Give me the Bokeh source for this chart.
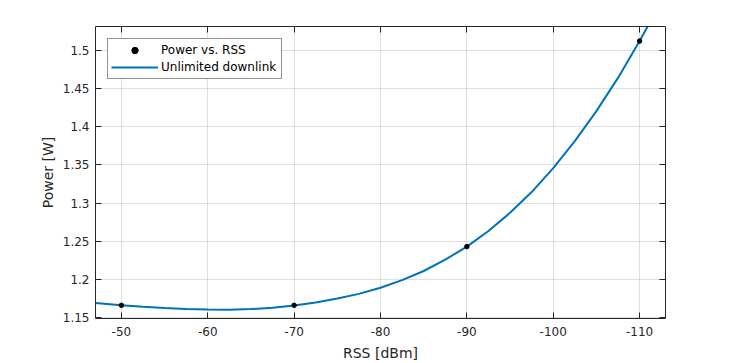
from bokeh.plotting import figure
from bokeh.models import Range1d, LinearAxis, FixedTicker, Legend, LegendItem
from bokeh.embed import file_html
from bokeh.resources import INLINE

# ---- data ----
rss_points = [-50, -70, -90, -110]
power_points = [1.166, 1.166, 1.243, 1.5125]

curve_rss = [-47, -50, -52.5, -55, -57.5, -60, -62.5, -65, -67.5, -70, -72.5, -75,
             -77.5, -80, -82.5, -85, -87.5, -90, -92.5, -95, -97.5, -100, -102.5,
             -105, -107.5, -110, -111]
curve_power = [1.1690, 1.1660, 1.1640, 1.1624, 1.1612, 1.1605, 1.1603, 1.1610, 1.1628,
               1.1658, 1.1698, 1.1750, 1.1810, 1.1890, 1.1990, 1.2110, 1.2258, 1.2430,
               1.2635, 1.2873, 1.3145, 1.3458, 1.3813, 1.4206, 1.4642, 1.5125, 1.5331]

x_ticks = [-50, -60, -70, -80, -90, -100, -110]
x_tick_labels = ["-50", "-60", "-70", "-80", "-90", "-100", "-110"]
y_ticks = [1.15, 1.2, 1.25, 1.3, 1.35, 1.4, 1.45, 1.5]
y_tick_labels = ["1.15", "1.2", "1.25", "1.3", "1.35", "1.4", "1.45", "1.5"]

series_labels = ["Power vs. RSS", "Unlimited downlink"]
x_label = "RSS [dBm]"
y_label = "Power [W]"

# ---- style ----
FONT = "DejaVu Sans"
AX = "#262626"
BLUE = "#0072BD"

p = figure(width=734, height=363,
           x_range=Range1d(-47, -113), y_range=Range1d(1.1487, 1.5316),
           output_backend="svg", toolbar_location=None,
           min_border_left=95, min_border_right=69,
           min_border_top=26, min_border_bottom=42)
p.outline_line_color = None
p.background_fill_color = "white"
p.border_fill_color = "white"

bottom_ax = p.below[0]
left_ax = p.left[0]

line_r = p.line(curve_rss, curve_power, line_color=BLUE, line_width=2)
dot_r = p.scatter(rss_points, power_points, size=4.5, color="black")

top_ax = LinearAxis()
right_ax = LinearAxis()
p.add_layout(top_ax, "above")
p.add_layout(right_ax, "right")

for ax in [bottom_ax, top_ax]:
    ax.ticker = FixedTicker(ticks=x_ticks)
for ax in [left_ax, right_ax]:
    ax.ticker = FixedTicker(ticks=y_ticks)

bottom_ax.major_label_overrides = dict(zip(x_ticks, x_tick_labels))
left_ax.major_label_overrides = dict(zip(y_ticks, y_tick_labels))
top_ax.major_label_overrides = {t: "" for t in x_ticks}
right_ax.major_label_overrides = {t: "" for t in y_ticks}

for ax in [bottom_ax, left_ax, top_ax, right_ax]:
    ax.axis_line_color = AX
    ax.axis_line_width = 1
    ax.major_tick_line_color = AX
    ax.major_tick_in = 6
    ax.major_tick_out = 0
    ax.minor_tick_line_color = None
    ax.major_label_text_font = FONT
    ax.major_label_text_font_size = "12px"
    ax.major_label_text_color = AX
    ax.axis_label_text_font = FONT
    ax.axis_label_text_font_size = "14px"
    ax.axis_label_text_font_style = "normal"
    ax.axis_label_text_color = AX

for ax in [top_ax, right_ax]:
    ax.major_label_standoff = 0

bottom_ax.axis_label = x_label
bottom_ax.major_label_standoff = 8
bottom_ax.axis_label_standoff = 6
left_ax.axis_label = y_label
left_ax.major_label_standoff = 6
left_ax.axis_label_standoff = 4

p.xgrid.grid_line_color = AX
p.xgrid.grid_line_alpha = 0.15
p.ygrid.grid_line_color = AX
p.ygrid.grid_line_alpha = 0.15

legend = Legend(items=[LegendItem(label=series_labels[0], renderers=[dot_r]),
                       LegendItem(label=series_labels[1], renderers=[line_r])],
                location="top_left", margin=12, padding=3, spacing=1,
                glyph_width=47, glyph_height=16, label_height=16,
                label_width=117, label_standoff=3,
                label_text_font=FONT, label_text_font_size="12px",
                label_text_color="black",
                border_line_color=AX, border_line_width=1,
                background_fill_color="white", background_fill_alpha=1)
p.add_layout(legend)

open("out.html", "w").write(file_html(p, INLINE))
